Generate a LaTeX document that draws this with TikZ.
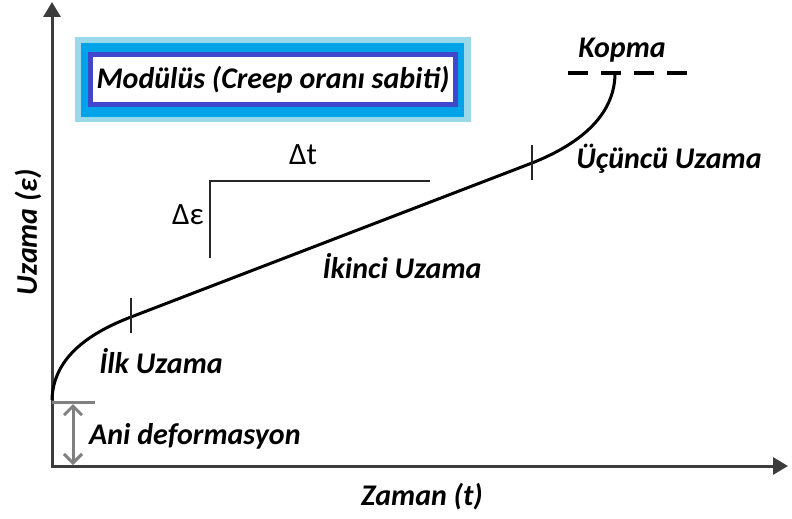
\documentclass[tikz,border=0pt]{standalone}
\usepackage{fontspec}
\setmainfont{Carlito}
\usetikzlibrary{arrows.meta,backgrounds}
\definecolor{axisgray}{HTML}{3C3C3C}
\definecolor{midgray}{HTML}{808080}
\definecolor{lightturq}{HTML}{99D9EA}
\definecolor{paintblue}{HTML}{00A2E8}
\definecolor{paintindigo}{HTML}{3F48CC}
\tikzset{
  lbl/.style={font=\fontsize{30}{33}\selectfont\bfseries\itshape, inner sep=0pt},
  plain/.style={font=\fontsize{31}{34}\selectfont, inner sep=0pt},
  axisline/.style={draw=axisgray, line width=3pt},
  curveline/.style={draw=black, line width=3pt},
  tickline/.style={draw=black!85, line width=2.5pt},
  bracket/.style={draw=black!85, line width=2.5pt},
  ani/.style={draw=midgray, line width=3pt},
}
\begin{document}
\begin{tikzpicture}[x=1pt,y=-1pt]
\useasboundingbox (0,0) rectangle (792,519);
% axes
\coordinate (ytop) at (52,2);
\coordinate (O) at (52,466);
\coordinate (xend) at (788,466);
\draw[axisline, {Triangle[length=15pt,width=17pt]}-{Triangle[length=15pt,width=17pt]}] (ytop) -- (O) -- (xend);
\node[lbl, rotate=90] (ylab) at (28,232) {Uzama (ε)};
\node[lbl] (xlab) at (422,497) {Zaman (t)};
% module box
\node[lbl, fill=white, draw=paintindigo, line width=5pt, minimum width=365pt, minimum height=50pt] (mod) at (273,79.5) {Modülüs (Creep oranı sabiti)};
\begin{scope}[on background layer]
\fill[lightturq] ([xshift=-13pt,yshift=15pt]mod.north west) rectangle ([xshift=13pt,yshift=-15pt]mod.south east);
\fill[paintblue] ([xshift=-7pt,yshift=9pt]mod.north west) rectangle ([xshift=6pt,yshift=-10pt]mod.south east);
\end{scope}
% curve
\coordinate (c0) at (52,400);
\coordinate (t1) at (131,317);
\coordinate (t2) at (532,163);
\coordinate (c3) at (615,73);
\draw[curveline] (c0) .. controls (53,356) and (92,332) .. (t1) -- (t2) .. controls (585,142) and (615,112) .. (c3);
\draw[tickline] ([yshift=19pt]t1) -- ([yshift=-16pt]t1);
\draw[tickline] ([yshift=18pt]t2) -- ([yshift=-17pt]t2);
% Kopma
\coordinate (k1) at (568,73);
\coordinate (k2) at (688,73);
\draw[line width=4.5pt, dash pattern=on 20pt off 13pt] (k1) -- (k2);
\node[lbl] (kopma) at (622,50) {Kopma};
% labels
\node[lbl] (ilk) at (161,361) {İlk Uzama};
\node[lbl] (ikinci) at (402,266) {İkinci Uzama};
\node[lbl] (ucuncu) at (669,159) {Üçüncü Uzama};
% slope bracket
\coordinate (b1) at (210,258);
\coordinate (b2) at (210,181);
\coordinate (b3) at (430,181);
\draw[bracket] (b1) -- (b2) -- (b3);
\node[plain] (dt) at (303,155) {Δt};
\node[plain] (de) at (188,215) {Δε};
% Ani deformasyon
\coordinate (a0) at (52,402);
\coordinate (a3) at (95,402);
\draw[ani] (a0) -- (a3);
\coordinate (a1) at (73,404);
\coordinate (a2) at (73,465);
\draw[ani, {Straight Barb[length=9pt,width=18pt]}-{Straight Barb[length=9pt,width=18pt]}] (a1) -- (a2);
\node[lbl, anchor=west] (ani) at (89,436) {Ani deformasyon};
\end{tikzpicture}
\end{document}
